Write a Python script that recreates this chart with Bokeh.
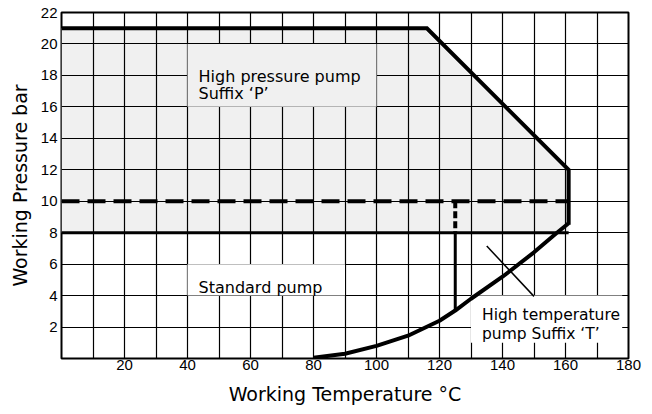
from bokeh.plotting import figure
from bokeh.models import FixedTicker, Range1d
from bokeh.core.properties import value
from bokeh.embed import file_html
from bokeh.resources import INLINE

# ---- data ----
x_ticks = [20, 40, 60, 80, 100, 120, 140, 160, 180]
y_ticks = [2, 4, 6, 8, 10, 12, 14, 16, 18, 20, 22]
x_grid = [10, 20, 30, 40, 50, 60, 70, 80, 90, 100, 110, 120, 130, 140, 150, 160, 170]
y_grid = [2, 4, 6, 8, 10, 12, 14, 16, 18, 20]

# High pressure envelope (solid thick)
hp_temp = [0, 116, 161, 161]
hp_pres = [21, 21, 12, 8.5]
# shaded high-pressure region
shade_temp = [0, 0, 116, 161, 161]
shade_pres = [8, 21, 21, 12, 8]
# standard pump limit (solid at 8 bar)
std_temp = [0, 161]
std_pres = [8, 8]
# dashed 10 bar line
dash_temp = [0, 161]
dash_pres = [10, 10]
# split at 125 C
split_dash_temp = [125, 125]
split_dash_pres = [10, 8]
split_solid_temp = [125, 125]
split_solid_pres = [8, 3.05]
# high temperature curve
curve_temp = [80, 90, 100, 110, 120, 125, 130, 140, 150, 157, 161]
curve_pres = [0.05, 0.3, 0.8, 1.45, 2.4, 3.05, 3.8, 5.2, 6.75, 7.95, 8.6]
# leader line
leader_temp = [135, 150]
leader_pres = [7.15, 3.95]

FONT = "Liberation Sans"
TFONT = "DejaVu Sans"
SHADE = "#f0f0f0"

p = figure(width=652, height=414, output_backend="svg", toolbar_location=None,
           x_range=Range1d(0, 180), y_range=Range1d(0, 22),
           min_border_left=61, min_border_right=24, min_border_top=12, min_border_bottom=56)

p.outline_line_color = "black"
p.outline_line_width = 2

for ax in (p.xaxis[0], p.yaxis[0]):
    ax.axis_line_color = None
    ax.major_tick_line_color = None
    ax.minor_tick_line_color = None
    ax.major_tick_out = 0
    ax.major_tick_in = 0
    ax.minor_tick_out = 0
    ax.minor_tick_in = 0
    ax.major_label_text_font = FONT
    ax.major_label_text_font_size = "15px"
    ax.major_label_text_color = "black"
    ax.axis_label_text_font = TFONT
    ax.axis_label_text_font_size = "19px"
    ax.axis_label_text_font_style = "normal"
    ax.axis_label_text_color = "black"

p.xaxis.ticker = FixedTicker(ticks=x_ticks)
p.yaxis.ticker = FixedTicker(ticks=y_ticks)
p.xaxis.major_label_standoff = 1
p.yaxis.major_label_standoff = 4
p.xaxis.axis_label = "Working Temperature \u00b0C"
p.yaxis.axis_label = "Working Pressure bar"
p.xaxis.axis_label_standoff = 10
p.yaxis.axis_label_standoff = 7

p.xgrid.ticker = FixedTicker(ticks=x_grid)
p.ygrid.ticker = FixedTicker(ticks=y_grid)
for g in (p.xgrid[0], p.ygrid[0]):
    g.grid_line_color = "black"
    g.grid_line_width = 1.2
    g.grid_line_alpha = 1.0

# shaded region under the grid
p.patch(shade_temp, shade_pres, fill_color=SHADE, line_color=None, level="image")

# label boxes hiding grid
p.quad(left=[40], right=[100], bottom=[16], top=[20], fill_color=SHADE, line_color=None)
p.quad(left=[40], right=[90], bottom=[4], top=[6], fill_color="white", line_color=None)
p.quad(left=[130], right=[178], bottom=[1], top=[4], fill_color="white", line_color=None)

# lines
p.line(dash_temp, dash_pres, line_color="black", line_width=4, line_dash="18 8")
p.line(split_dash_temp, split_dash_pres, line_color="black", line_width=4, line_dash="7 3")
p.line(std_temp, std_pres, line_color="black", line_width=3)
p.line(split_solid_temp, split_solid_pres, line_color="black", line_width=3)
p.line(hp_temp, hp_pres, line_color="black", line_width=4, line_join="miter")
p.line(curve_temp, curve_pres, line_color="black", line_width=4)
p.line(leader_temp, leader_pres, line_color="black", line_width=1.5)

# texts
p.text(x=[43.5, 43.5], y=[17.96, 16.84], text=["High pressure pump", "Suffix \u2018P\u2019"],
       text_font=value(TFONT), text_font_size="16px", text_color="black",
       text_align="left", text_baseline="alphabetic")
p.text(x=[43.5], y=[4.54], text=["Standard pump"],
       text_font=value(TFONT), text_font_size="16px", text_color="black",
       text_align="left", text_baseline="alphabetic")
p.text(x=[133.5, 133.5], y=[2.74, 1.57], text=["High temperature", "pump Suffix \u2018T\u2019"],
       text_font=value(TFONT), text_font_size="15.5px", text_color="black",
       text_align="left", text_baseline="alphabetic")

open("out.html", "w").write(file_html(p, INLINE))
